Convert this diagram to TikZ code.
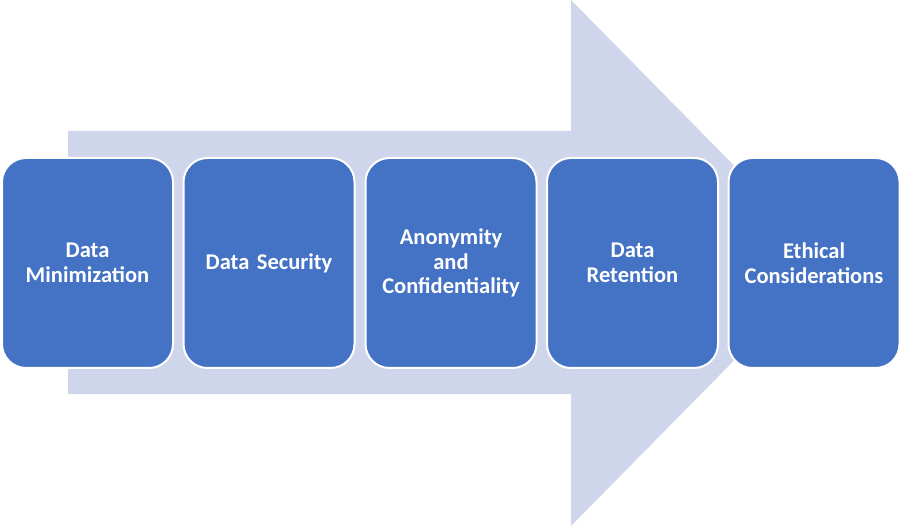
\documentclass[tikz,border=0pt]{standalone}
\usepackage{fontspec}
\setmainfont{Carlito}
\definecolor{arrowfill}{HTML}{CFD5EA}
\definecolor{boxfill}{HTML}{4472C4}
\begin{document}
\begin{tikzpicture}[x=1pt,y=-1pt,
  stepbox/.style={draw=white,line width=2pt,fill=boxfill,rounded corners=24pt,
    minimum width=171pt,minimum height=210pt,text width=165pt,align=center,
    text=white,font=\bfseries\fontsize{22.5}{24.5}\selectfont,inner sep=0pt}]
\useasboundingbox (0,0) rectangle (902,526);
\fill[arrowfill] (68,131) -- (571,131) -- (571,0) -- (830,263) -- (571,526) -- (571,394) -- (68,394) -- cycle;
\node[stepbox] (b1) at (87.5,263) {Data\\Minimization};
\node[stepbox] (b2) at (269,263) {Data Security};
\node[stepbox] (b3) at (451,263) {Anonymity\\and\\Confidentiality};
\node[stepbox] (b4) at (632.5,263) {Data\\Retention};
\node[stepbox] (b5) at (814,263) {Ethical\\Considerations};
\end{tikzpicture}
\end{document}
